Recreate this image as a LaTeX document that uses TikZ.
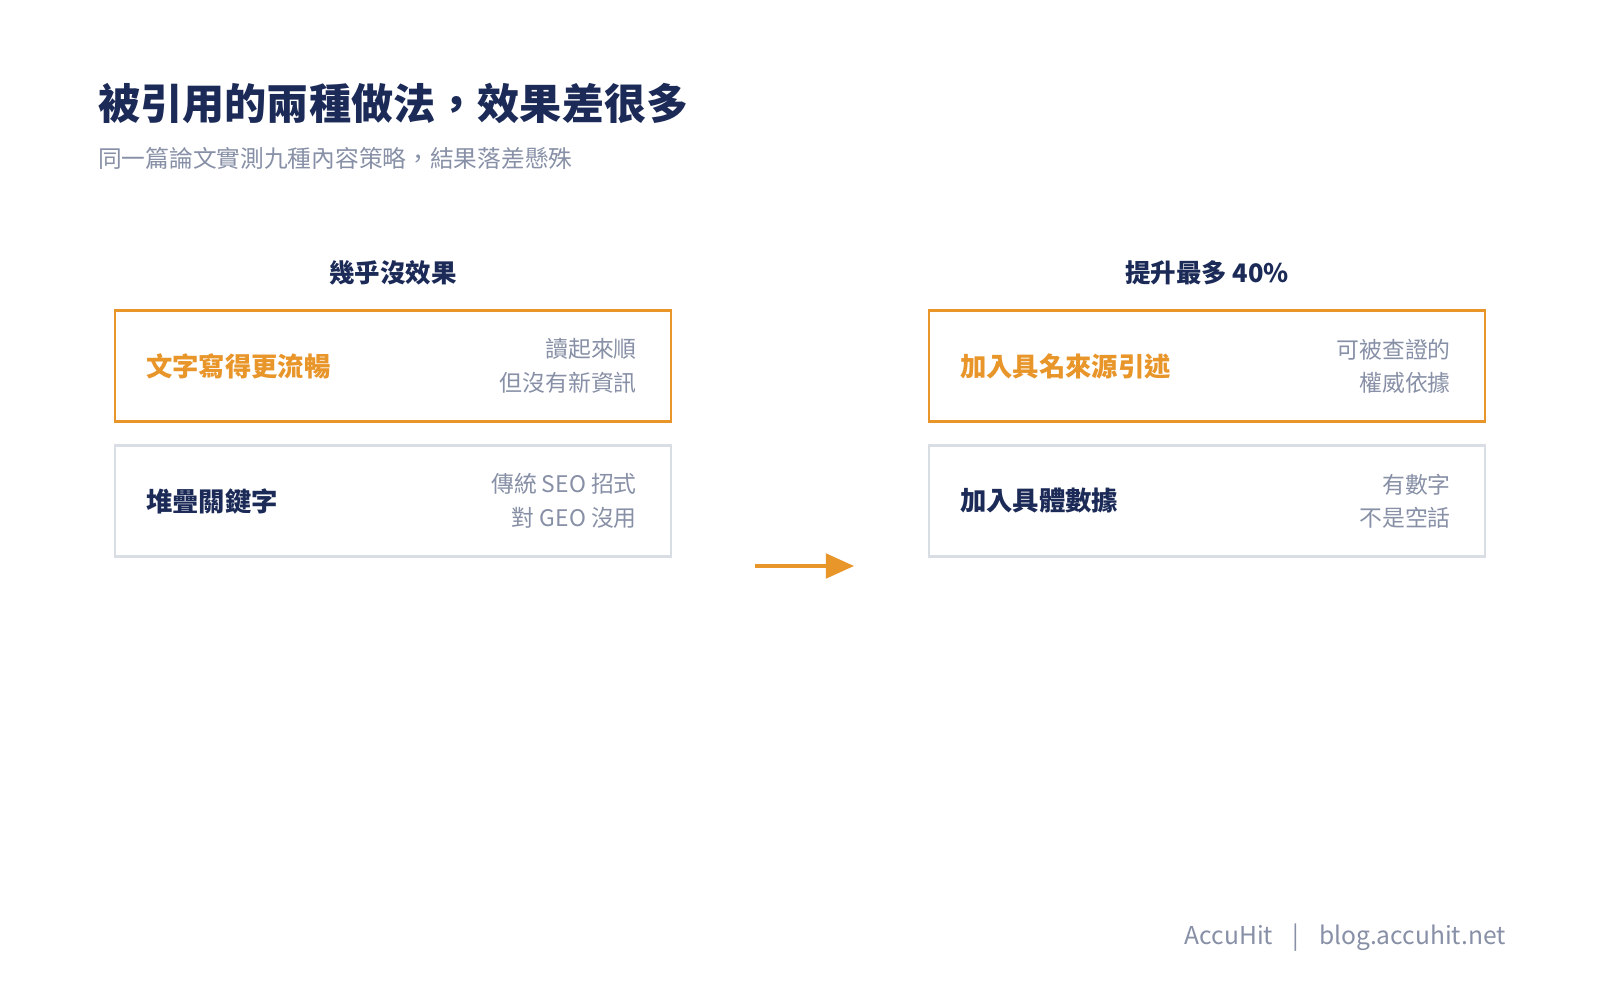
\documentclass[tikz,border=0pt]{standalone}
\usepackage{fontspec}
\setmainfont{Noto Sans CJK TC}
\usetikzlibrary{positioning,arrows.meta}
\definecolor{navy}{HTML}{1B2A57}
\definecolor{accent}{HTML}{E8952A}
\definecolor{muted}{HTML}{8790A6}
\definecolor{edge}{HTML}{D9DDE4}
\tikzset{
  card/.style={draw=#1, line width=1.3pt, minimum width=556*0.02cm, minimum height=111*0.02cm, inner sep=0pt},
  lead/.style={font=\fontsize{15}{18}\selectfont\bfseries, anchor=west},
  note/.style={font=\fontsize{13}{19}\selectfont, text=muted, align=right, anchor=east},
  head/.style={font=\fontsize{14.5}{18}\selectfont\bfseries, text=navy}
}
\begin{document}
\begin{tikzpicture}[x=0.02cm, y=-0.02cm]
    \useasboundingbox[fill=white] (0,0) rectangle (1600,1000);
    % title block
    \node[anchor=west, font=\fontsize{24}{29}\selectfont\bfseries, text=navy] (title) at (92,104) {被引用的兩種做法，效果差很多};
    \node[anchor=west, font=\fontsize{13.5}{16}\selectfont, text=muted] (subtitle) at (92,158) {同一篇論文實測九種內容策略，結果落差懸殊};
    % left column
    \node[head] (lefthead) at (393,273) {幾乎沒效果};
    \node[card=accent] (leftA) at (393,366) {};
    \node[card=edge] (leftB) at (393,501) {};
    \node[lead, text=accent] (leftAtext) at (140,366) {文字寫得更流暢};
    \node[note] (leftAnote) at (643,366) {讀起來順\\但沒有新資訊};
    \node[lead, text=navy] (leftBtext) at (140,501) {堆疊關鍵字};
    \node[note] (leftBnote) at (643,501) {傳統 SEO 招式\\對 GEO 沒用};
    % right column
    \node[head] (righthead) at (1207,273) {提升最多 40\%};
    \node[card=accent] (rightA) at (1207,366) {};
    \node[card=edge] (rightB) at (1207,501) {};
    \node[lead, text=accent] (rightAtext) at (954,366) {加入具名來源引述};
    \node[note] (rightAnote) at (1457,366) {可被查證的\\權威依據};
    \node[lead, text=navy] (rightBtext) at (954,501) {加入具體數據};
    \node[note] (rightBnote) at (1457,501) {有數字\\不是空話};
    % arrow
    \coordinate (arrowstart) at (755,566);
    \coordinate (arrowend) at (854,566);
    \draw[accent, line width=1.8pt, -{Triangle[length=16pt,width=14pt]}] (arrowstart) -- (arrowend);
    % footer
    \node[anchor=east, font=\fontsize{14}{17}\selectfont, text=muted] (footer) at (1512,938) {AccuHit\hspace{0.8em}|\hspace{0.8em}blog.accuhit.net};
\end{tikzpicture}
\end{document}
